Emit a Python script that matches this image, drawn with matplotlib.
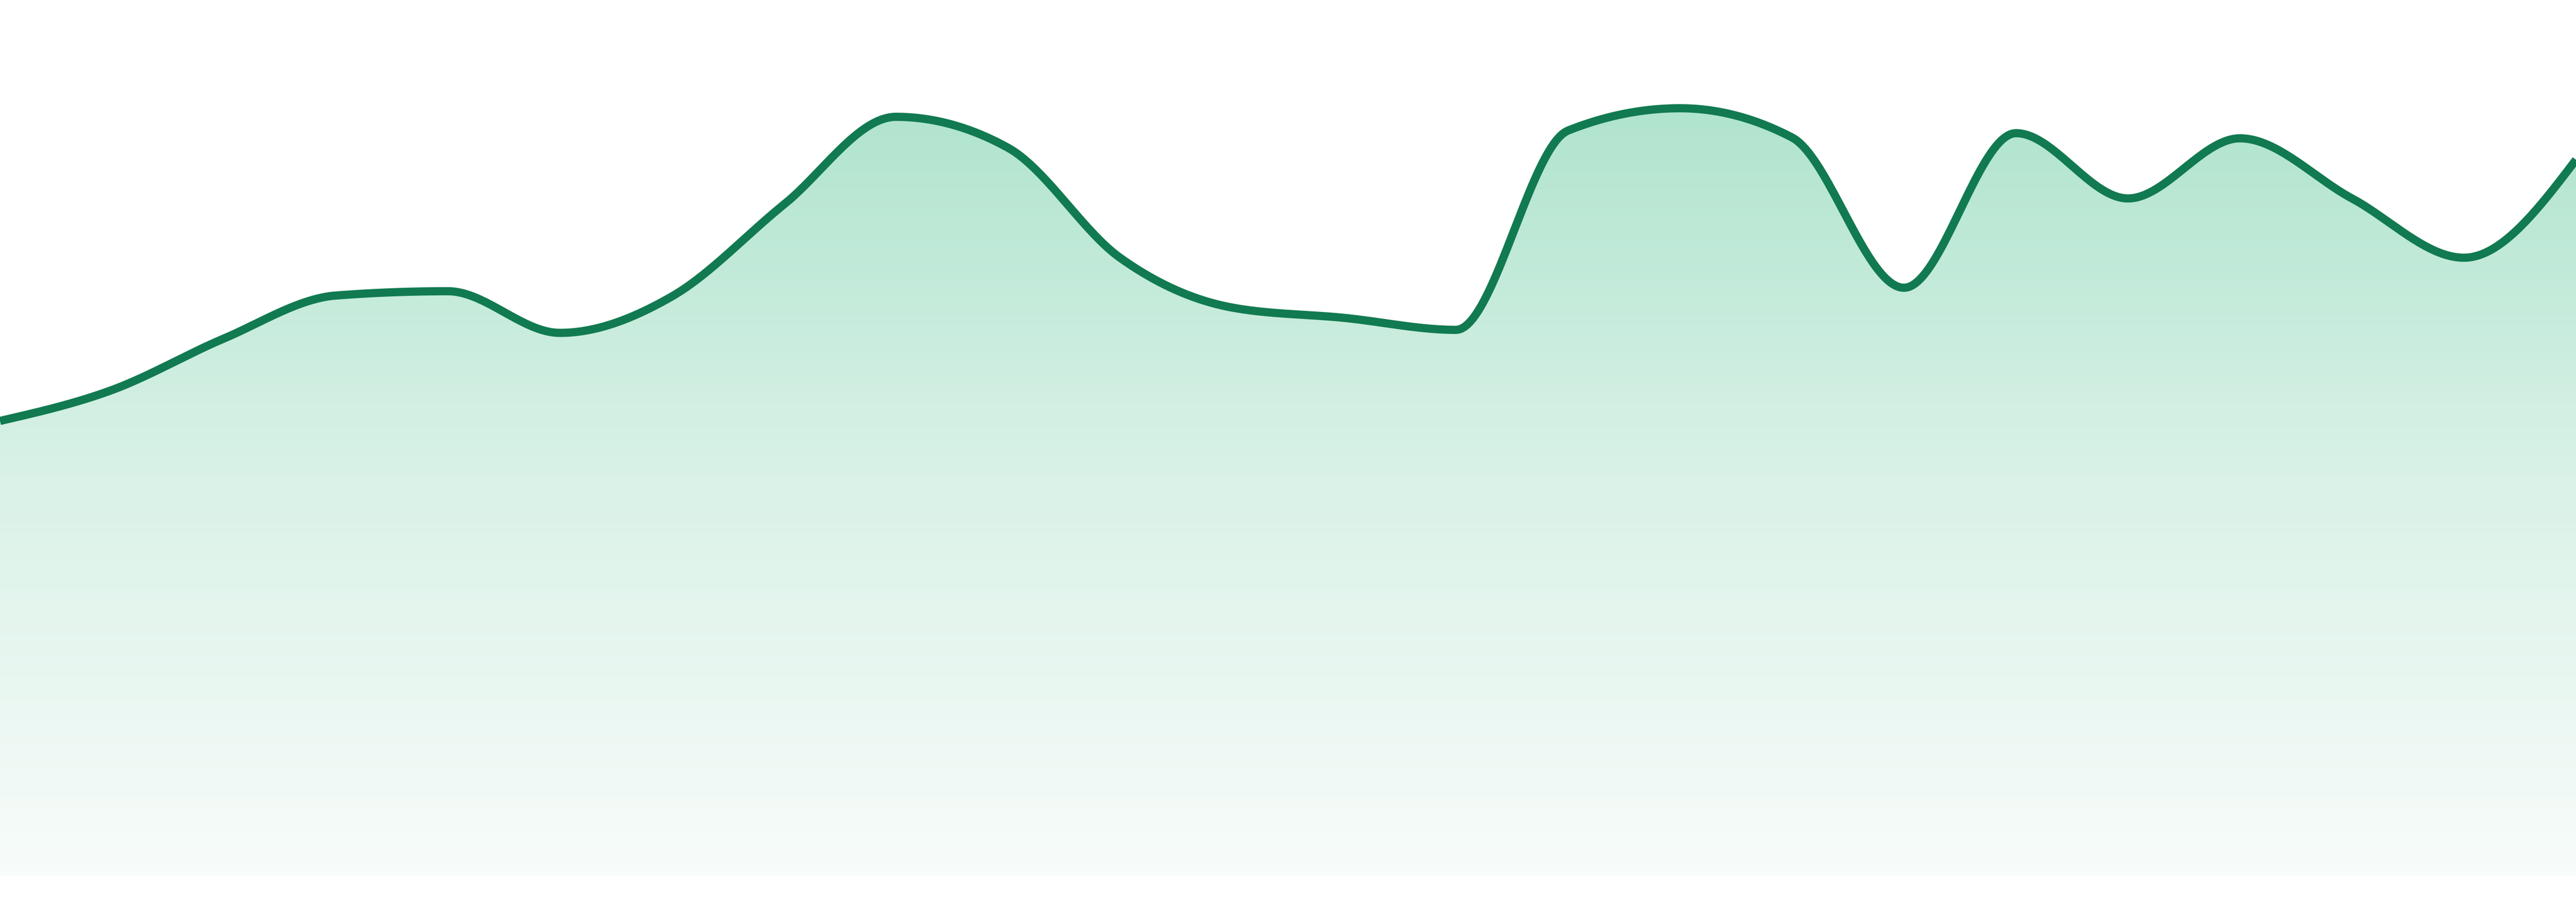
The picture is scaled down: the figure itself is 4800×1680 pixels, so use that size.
import numpy as np
import matplotlib
matplotlib.use("Agg")
import matplotlib.pyplot as plt
from matplotlib.patches import Polygon
from matplotlib.colors import LinearSegmentedColormap

# ---- data ----
points = list(range(24))
values = [53.0, 56.6, 62.6, 67.6, 68.1, 63.25, 67.5, 78.2, 88.4, 84.8,
          72.0, 66.2, 65.0, 63.6, 86.8, 89.4, 86.0, 68.5, 86.5, 78.9,
          85.9, 78.9, 72.0, 83.4]
y_min, y_max = -3.0, 102.0

line_color = "#117a50"
grad_stops = [(0.0, "#f8fcfa"), (45.75, "#daf2e8"), (89.5, "#b0e4ce"), (102.0, "#a8e1c8")]


def monotone_x(x, y, n=40):
    x = np.asarray(x, float)
    y = np.asarray(y, float)
    h = np.diff(x)
    s = np.diff(y) / h
    t = np.zeros_like(y)
    for i in range(1, len(y) - 1):
        s0, s1 = s[i - 1], s[i]
        p = (s0 * h[i] + s1 * h[i - 1]) / (h[i - 1] + h[i])
        t[i] = (np.sign(s0) + np.sign(s1)) * min(abs(s0), abs(s1), 0.5 * abs(p))
    t[0] = (3 * s[0] - t[1]) / 2
    t[-1] = (3 * s[-1] - t[-2]) / 2
    xs, ys = [], []
    for i in range(len(h)):
        u = np.linspace(0, 1, n, endpoint=(i == len(h) - 1))
        h00 = 2 * u**3 - 3 * u**2 + 1
        h10 = u**3 - 2 * u**2 + u
        h01 = -2 * u**3 + 3 * u**2
        h11 = u**3 - u**2
        xs.append(x[i] + u * h[i])
        ys.append(h00 * y[i] + h10 * h[i] * t[i] + h01 * y[i + 1] + h11 * h[i] * t[i + 1])
    return np.concatenate(xs), np.concatenate(ys)


cx, cy = monotone_x(points, values)

fig = plt.figure(figsize=(48, 16.8), dpi=100)
ax = fig.add_axes([0, 0, 1, 1])
ax.set_xlim(points[0], points[-1])
ax.set_ylim(y_min, y_max)
ax.axis("off")

# gradient fill under the curve
span = grad_stops[-1][0] - grad_stops[0][0]
cmap = LinearSegmentedColormap.from_list(
    "g", [((v - grad_stops[0][0]) / span, c) for v, c in grad_stops])
grad = np.linspace(0, 1, 512).reshape(-1, 1)
im = ax.imshow(grad, cmap=cmap, aspect="auto", origin="lower",
               extent=[points[0], points[-1], grad_stops[0][0], grad_stops[-1][0]],
               interpolation="bilinear", zorder=1)
poly = np.column_stack([np.concatenate([cx, [points[-1], points[0]]]),
                        np.concatenate([cy, [0.0, 0.0]])])
clip = Polygon(poly, closed=True, transform=ax.transData, facecolor="none", edgecolor="none")
ax.add_patch(clip)
im.set_clip_path(clip)

ax.plot(cx, cy, color=line_color, lw=11, solid_capstyle="butt", zorder=3)

fig.savefig("out.png", dpi=100, facecolor="white")
